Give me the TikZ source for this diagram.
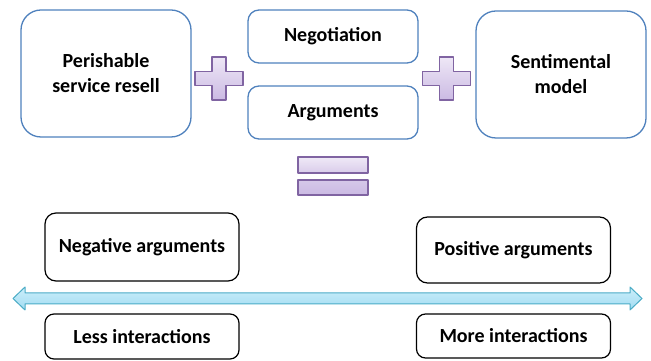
\documentclass[tikz,border=0pt]{standalone}
\usepackage{fontspec}
\setmainfont{Carlito}
\usetikzlibrary{positioning,calc}
\definecolor{boxblue}{RGB}{79,129,189}
\definecolor{plusline}{RGB}{128,100,162}
\definecolor{plustop}{RGB}{238,231,246}
\definecolor{plusbot}{RGB}{203,186,227}
\definecolor{axisline}{RGB}{75,172,198}
\definecolor{axistop}{RGB}{205,238,250}
\definecolor{axisbot}{RGB}{160,220,242}
\tikzset{bigbox/.style={rectangle,rounded corners=20pt,draw=boxblue,line width=1.3pt,minimum width=170pt,minimum height=127pt,align=center,font=\fontsize{20}{25}\selectfont\bfseries},flatbox/.style={rectangle,rounded corners=11pt,draw=boxblue,line width=1.3pt,minimum width=170pt,minimum height=53pt,font=\fontsize{20}{24}\selectfont\bfseries},scalebox/.style={rectangle,rounded corners=11pt,draw=black,line width=1.2pt,minimum width=194pt,font=\fontsize{20}{24}\selectfont\bfseries},symbol/.style={draw=plusline,line width=1.2pt,top color=plustop,bottom color=plusbot},axisarrow/.style={draw=axisline,line width=1pt,top color=axistop,bottom color=axisbot},every picture/.style={line join=round}}
\newcommand{\plusmark}[1]{\draw[symbol] ($(#1)+(-7,21.5)$) -- ++(14,0) -- ++(0,-14.5) -- ++(17,0) -- ++(0,-14) -- ++(-17,0) -- ++(0,-14.5) -- ++(-14,0) -- ++(0,14.5) -- ++(-17,0) -- ++(0,14) -- ++(17,0) -- cycle;}

\begin{document}
\begin{tikzpicture}[x=1pt,y=1pt]
\useasboundingbox (0,0) rectangle (651,361);
% top row
\node[bigbox] (resell) at (106,287.5) {Perishable\\service resell};
\node[flatbox] (negot) at (333,324.5) {Negotiation};
\node[flatbox] (argum) at (333,248.5) {Arguments};
\node[bigbox] (sentim) at (561,286.5) {Sentimental\\model};
\coordinate (plusA) at (219,282.5);
\coordinate (plusB) at (446.5,282.5);
\plusmark{plusA}
\plusmark{plusB}
% equals sign
\node[symbol,rectangle,minimum width=70pt,minimum height=16pt,inner sep=0pt,top color=plustop!90!white,bottom color=plustop!40!plusbot] (eqtop) at (333,196) {};
\node[symbol,rectangle,minimum width=70pt,minimum height=15pt,inner sep=0pt,top color=plustop!30!plusbot,bottom color=plusbot] (eqbot) at (333,173.5) {};
% scale
\coordinate (lowend) at (13,62.5);
\coordinate (highend) at (642,62.5);
\draw[axisarrow] (lowend) -- ++(12,11.5) -- ++(0,-6) -- ($(highend)+(-12,5.5)$) -- ++(0,6) -- (highend) -- ++(-12,-11.5) -- ++(0,6) -- ($(lowend)+(12,-5.5)$) -- ++(0,-6) -- cycle;
\node[scalebox,minimum height=68pt] (negarg) at (142,114) {Negative arguments};
\node[scalebox,minimum height=66pt] (posarg) at (513.5,111) {Positive arguments};
\node[scalebox,minimum height=45pt,rounded corners=9pt] (less) at (142,24.5) {Less interactions};
\node[scalebox,minimum height=44pt,rounded corners=9pt] (more) at (513.5,25) {More interactions};
\end{tikzpicture}
\end{document}
